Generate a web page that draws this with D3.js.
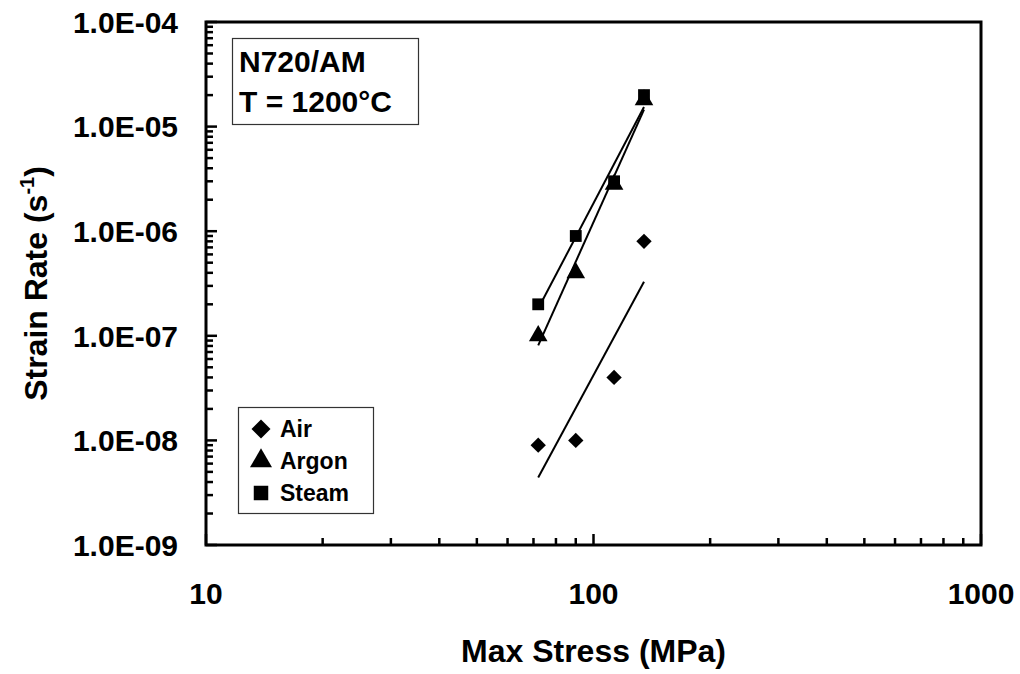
<!DOCTYPE html>
<html>
<head>
<meta charset="utf-8">
<script src="https://cdn.jsdelivr.net/npm/d3@7"></script>
<style>
  body { margin: 0; background: #fff; }
  svg { display: block; font-family: "Liberation Sans", Arial, sans-serif; font-weight: bold; }
</style>
</head>
<body>
<svg id="chart" width="1020" height="674"></svg>
<script>
// stress levels (MPa) and measured strain rates (1/s)
const stress = [72, 90, 113, 135];
const airRate = [9e-9, 1e-8, 4e-8, 8e-7];
const argonRate = [1e-7, 4e-7, 2.8e-6, 1.8e-5];
const steamRate = [2e-7, 9e-7, 3e-6, 2e-5];

const xTicks = [10, 100, 1000];
const yTicks = [1e-9, 1e-8, 1e-7, 1e-6, 1e-5, 1e-4];

const seriesNames = ['Air', 'Argon', 'Steam'];
const seriesRates = [airRate, argonRate, steamRate];
const seriesSymbols = [d3.symbolDiamond2, d3.symbolTriangle, d3.symbolSquare];

const margin = { top: 22, right: 39, bottom: 129, left: 206 };
const width = 1020 - margin.left - margin.right;
const height = 674 - margin.top - margin.bottom;

const svg = d3.select('#chart');
const g = svg.append('g').attr('transform', `translate(${margin.left},${margin.top})`);

const x = d3.scaleLog().domain([10, 1000]).range([0, width]);
const y = d3.scaleLog().domain([1e-9, 1e-4]).range([height, 0]);

// minor ticks 2..9 in each decade
const minorX = d3.range(1, 3).flatMap(e => d3.range(2, 10).map(m => m * Math.pow(10, e)));
const minorY = d3.range(-9, -4).flatMap(e => d3.range(2, 10).map(m => m * Math.pow(10, e)));

// inward tick marks
const ticks = g.append('g').attr('stroke', '#000').attr('stroke-width', 2.5);
ticks.selectAll('line.xt')
  .data(xTicks.map(v => [v, 11]).concat(minorX.map(v => [v, 7])))
  .join('line').attr('class', 'xt')
  .attr('x1', d => x(d[0])).attr('x2', d => x(d[0]))
  .attr('y1', height).attr('y2', d => height - d[1]);
ticks.selectAll('line.yt')
  .data(yTicks.map(v => [v, 11]).concat(minorY.map(v => [v, 7])))
  .join('line').attr('class', 'yt')
  .attr('y1', d => y(d[0])).attr('y2', d => y(d[0]))
  .attr('x1', 0).attr('x2', d => d[1]);

// tick labels
const fmtY = d => d.toExponential(1).replace('e', 'E').replace(/E-(\d)$/, 'E-0$1');
g.selectAll('text.xl')
  .data(xTicks)
  .join('text').attr('class', 'xl')
  .attr('x', d => x(d)).attr('y', height + 59)
  .attr('text-anchor', 'middle').attr('font-size', 30)
  .text(d => d);
g.selectAll('text.yl')
  .data(yTicks)
  .join('text').attr('class', 'yl')
  .attr('x', -28).attr('y', d => y(d)).attr('dy', '0.36em')
  .attr('text-anchor', 'end').attr('font-size', 30)
  .text(fmtY);

// plot frame
g.append('rect')
  .attr('width', width).attr('height', height)
  .attr('fill', 'none').attr('stroke', '#000').attr('stroke-width', 3);

// power-law trend lines (least squares in log-log space)
function powerFit(xs, ys) {
  const lx = xs.map(Math.log10), ly = ys.map(Math.log10);
  const mx = d3.mean(lx), my = d3.mean(ly);
  const b = d3.sum(lx, (v, i) => (v - mx) * (ly[i] - my)) / d3.sum(lx, v => (v - mx) ** 2);
  const a = my - b * mx;
  return v => Math.pow(10, a + b * Math.log10(v));
}

const line = d3.line().x(d => x(d[0])).y(d => y(d[1]));
const xExtent = d3.extent(stress);

seriesRates.forEach(rates => {
  const f = powerFit(stress, rates);
  g.append('path')
    .attr('d', line(xExtent.map(v => [v, f(v)])))
    .attr('fill', 'none').attr('stroke', '#000').attr('stroke-width', 2);
});

const symbolSize = [150, 150, 140];
seriesRates.forEach((rates, i) => {
  g.append('g').selectAll('path')
    .data(rates.map((r, j) => [stress[j], r]))
    .join('path')
    .attr('transform', d => `translate(${x(d[0])},${y(d[1])})`)
    .attr('d', d3.symbol().type(seriesSymbols[i]).size(symbolSize[i]))
    .attr('fill', '#000');
});

// info box
const info = svg.append('g');
info.append('rect')
  .attr('x', 232.5).attr('y', 38.5).attr('width', 186).attr('height', 86)
  .attr('fill', '#fff').attr('stroke', '#333').attr('stroke-width', 1.2);
info.append('text').attr('x', 239).attr('y', 72).attr('font-size', 30).text('N720/AM');
info.append('text').attr('x', 239).attr('y', 112).attr('font-size', 30).text('T = 1200°C');

// legend
const legend = svg.append('g');
legend.append('rect')
  .attr('x', 238.5).attr('y', 407.5).attr('width', 135).attr('height', 106)
  .attr('fill', '#fff').attr('stroke', '#333').attr('stroke-width', 1.2);
const legendSize = [230, 210, 210];
seriesNames.forEach((name, i) => {
  const cy = 429 + i * 32;
  legend.append('path')
    .attr('transform', `translate(261,${cy})`)
    .attr('d', d3.symbol().type(seriesSymbols[i]).size(legendSize[i]))
    .attr('fill', '#000');
  legend.append('text')
    .attr('x', 280).attr('y', cy + 8)
    .attr('font-size', 23).text(name);
});

// axis titles
svg.append('text')
  .attr('x', margin.left + width / 2).attr('y', 662)
  .attr('text-anchor', 'middle').attr('font-size', 32)
  .text('Max Stress (MPa)');

const yTitle = svg.append('text')
  .attr('transform', `translate(47,${margin.top + height / 2}) rotate(-90)`)
  .attr('text-anchor', 'middle').attr('font-size', 32);
yTitle.append('tspan').text('Strain Rate (s');
yTitle.append('tspan').attr('font-size', 20).attr('dy', -13).text('-1');
yTitle.append('tspan').attr('dy', 13).text(')');
</script>
</body>
</html>
